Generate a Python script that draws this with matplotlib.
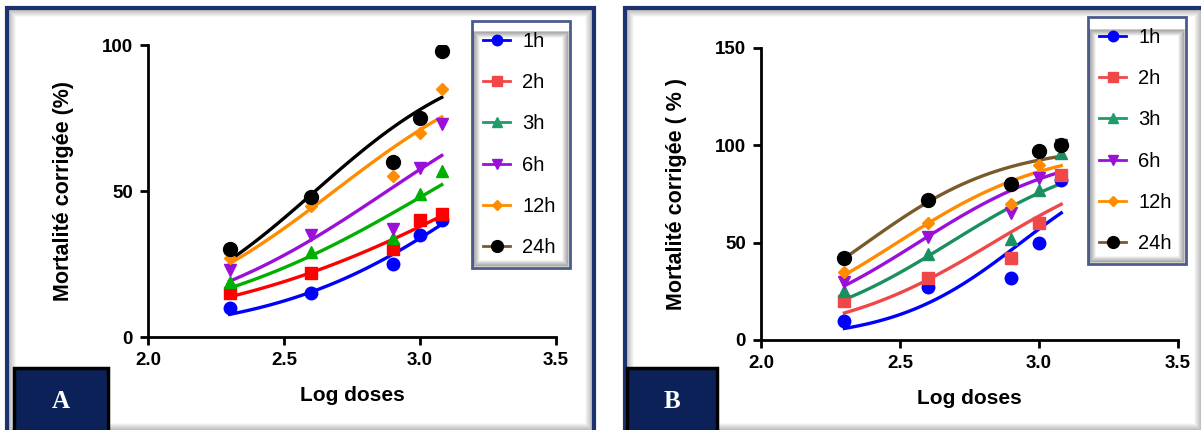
import numpy as np
import matplotlib
matplotlib.use("Agg")
import matplotlib.pyplot as plt
from matplotlib.patches import Rectangle
from matplotlib.lines import Line2D

plt.rcParams['font.family'] = ['Liberation Sans', 'DejaVu Sans']

# log doses (200, 400, 800, 1000, 1200)
log_doses = [2.30, 2.60, 2.90, 3.00, 3.08]
series = ['1h', '2h', '3h', '6h', '12h', '24h']

mort_a = {
    '1h': [10, 15, 25, 35, 40],
    '2h': [15, 22, 30, 40, 42],
    '3h': [19, 29, 34, 49, 57],
    '6h': [23, 35, 37, 58, 73],
    '12h': [27, 45, 55, 70, 85],
    '24h': [30, 48, 60, 75, 98],
}
mort_b = {
    '1h': [10, 27, 32, 50, 82],
    '2h': [20, 32, 42, 60, 85],
    '3h': [25, 44, 52, 77, 96],
    '6h': [30, 53, 65, 83, 100],
    '12h': [35, 60, 70, 90, 100],
    '24h': [42, 72, 80, 97, 100],
}

markers = {'1h': 'o', '2h': 's', '3h': '^', '6h': 'v', '12h': 'D', '24h': 'o'}
msize = {'1h': 9, '2h': 9, '3h': 9, '6h': 9, '12h': 6.5, '24h': 10}
colors_a = {'1h': '#0000ff', '2h': '#ff0000', '3h': '#00b000',
            '6h': '#9b10d8', '12h': '#ff8c00', '24h': '#000000'}
colors_b = {'1h': '#0000ff', '2h': '#f04848', '3h': '#1a9060',
            '6h': '#9b10d8', '12h': '#ff8c00', '24h': '#7a5a2a'}
marker_col_b = dict(colors_b, **{'24h': '#000000'})
leg_line = {'1h': '#0000ff', '2h': '#f04848', '3h': '#1e9c6a',
            '6h': '#9b10d8', '12h': '#ff8c00', '24h': '#7a5a2a'}
leg_mark = dict(leg_line, **{'24h': '#000000'})

navy = '#0b2157'
frame_col = '#1c3370'

fig = plt.figure(figsize=(12.01, 4.30), dpi=100)


def px(x, y):
    return x / 1201, 1 - y / 430


def logistic(x, ec50, hill):
    return 100 / (1 + 10 ** ((ec50 - x) * hill))


def fit_logistic(x, y):
    # least squares fit (bottom 0, top 100) by grid search
    y = np.asarray(y, dtype=float)
    ec = np.linspace(2.0, 4.5, 501)
    hl = np.linspace(0.2, 6.0, 581)
    best = (np.inf, 0, 0)
    for e in ec:
        err = sum((logistic(xv, e, hl) - yv) ** 2 for xv, yv in zip(x, y))
        j = np.argmin(err)
        if err[j] < best[0]:
            best = (err[j], e, hl[j])
    return best[1], best[2]


def shade_box(x0, x1, y0, y1, n=8, amax=0.25, z=1):
    for i, a in enumerate(np.linspace(amax, 0.0, n)):
        fig.patches.append(Rectangle(px(x0 + 2 + i, y1 - 2 - i), (x1 - x0 - 4 - 2 * i) / 1201,
                                     (y1 - y0 - 4 - 2 * i) / 430, transform=fig.transFigure,
                                     fill=False, edgecolor=(0.3, 0.3, 0.3, a), lw=1.2,
                                     zorder=z))


def panel_frame(x0, x1, y0, y1):
    shade_box(x0, x1, y0, y1)
    fig.patches.append(Rectangle(px(x0, y1), (x1 - x0) / 1201, (y1 - y0) / 430,
                                 transform=fig.transFigure, fill=False,
                                 edgecolor=frame_col, lw=3))


def tag(x0, x1, letter):
    fig.patches.append(Rectangle(px(x0, 432), (x1 - x0) / 1201, 64 / 430,
                                 transform=fig.transFigure, facecolor=navy,
                                 edgecolor='black', lw=2.5, zorder=5))
    fig.text(*px((x0 + x1) / 2, 402), letter, color='white', fontsize=18,
             fontweight='bold', family='Liberation Serif', ha='center', va='center',
             zorder=6)


def draw(ax, data, colors, mcolors, ymax, yticks, ylabel):
    xs = np.linspace(log_doses[0], log_doses[-1], 100)
    for s in series:
        ec50, hill = fit_logistic(log_doses, data[s])
        ax.plot(xs, logistic(xs, ec50, hill), color=colors[s], lw=2.4, zorder=2)
        ax.plot(log_doses, data[s], linestyle='none', marker=markers[s],
                markersize=msize[s], color=mcolors[s], zorder=3)
    ax.set_xlim(2.0, 3.5)
    ax.set_ylim(0, ymax)
    ax.set_xticks([2.0, 2.5, 3.0, 3.5])
    ax.set_xticklabels(['2.0', '2.5', '3.0', '3.5'])
    ax.set_yticks(yticks)
    for sp in ['top', 'right']:
        ax.spines[sp].set_visible(False)
    for sp in ['left', 'bottom']:
        ax.spines[sp].set_linewidth(2)
    ax.tick_params(width=2, length=6, labelsize=13.5, pad=5)
    for t in ax.get_xticklabels() + ax.get_yticklabels():
        t.set_fontweight('bold')
    ax.set_xlabel('Log doses', fontsize=15, fontweight='bold', labelpad=12)
    ax.set_ylabel(ylabel, fontsize=15.5, fontweight='bold', labelpad=20)
    ax.patch.set_alpha(0)


def legend(x, y, w, h):
    fig.patches.append(Rectangle(px(x, y + h), w / 1201, h / 430, transform=fig.transFigure,
                                 facecolor='white', edgecolor='none', zorder=4))
    shade_box(x, x + w, y, y + h, n=7, amax=0.35, z=4.5)
    handles = [Line2D([], [], color=leg_line[s], marker=markers[s], markersize=msize[s] - 1.5,
                      markerfacecolor=leg_mark[s], markeredgecolor=leg_mark[s], lw=2)
               for s in series]
    leg = fig.legend(handles, series, loc='lower left',
                     bbox_to_anchor=(*px(x, y + h), w / 1201, h / 430),
                     mode='expand', fontsize=14.5, handlelength=1.35,
                     labelspacing=1.1, borderaxespad=0, handletextpad=0.6,
                     fancybox=False, frameon=True, borderpad=0.55)
    leg.set_zorder(6)
    fr = leg.get_frame()
    fr.set_edgecolor(frame_col)
    fr.set_linewidth(2)
    fr.set_facecolor('none')


panel_frame(7, 594, 8, 432)
panel_frame(625, 1203, 8, 432)

ax_a = fig.add_axes([148 / 1201, 1 - 337 / 430, 408 / 1201, 292 / 430])
draw(ax_a, mort_a, colors_a, colors_a, 100, [0, 50, 100], 'Mortalité corrigée (%)')
ax_b = fig.add_axes([761 / 1201, 1 - 340 / 430, 417 / 1201, 292 / 430])
draw(ax_b, mort_b, colors_b, marker_col_b, 150, [0, 50, 100, 150],
     'Mortalité corrigée ( % )')

legend(472, 30, 98, 238)
legend(1088, 28, 98, 236)

tag(14, 108, 'A')
tag(627, 717, 'B')

fig.savefig('out.png', dpi=100)
